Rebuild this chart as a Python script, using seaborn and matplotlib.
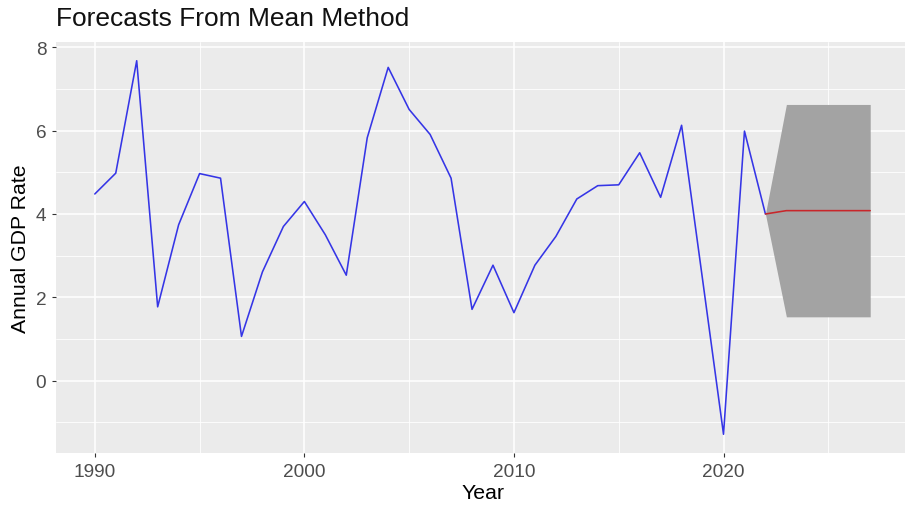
import pandas as pd
import matplotlib
matplotlib.use('Agg')
import matplotlib.pyplot as plt
import seaborn as sns

years = list(range(1990, 2023))
gdp_rate = [4.48, 4.98, 7.68, 1.77, 3.74, 4.97, 4.86, 1.06, 2.61, 3.70,
            4.30, 3.50, 2.53, 5.83, 7.52, 6.51, 5.91, 4.86, 1.71, 2.77,
            1.63, 2.77, 3.46, 4.36, 4.68, 4.70, 5.47, 4.40, 6.13, 2.43,
            -1.29, 5.99, 4.00]

fc_years = [2022, 2023, 2024, 2025, 2026, 2027]
fc_mean = [4.00, 4.08, 4.08, 4.08, 4.08, 4.08]
fc_upper = [4.00, 6.63, 6.63, 6.63, 6.63, 6.63]
fc_lower = [4.00, 1.53, 1.53, 1.53, 1.53, 1.53]

df = pd.DataFrame({'Year': years, 'Rate': gdp_rate})
fc = pd.DataFrame({'Year': fc_years, 'Mean': fc_mean,
                   'Upper': fc_upper, 'Lower': fc_lower})

sns.set_style('darkgrid', {'axes.facecolor': '#EBEBEB', 'grid.color': 'white'})
plt.rcParams['font.family'] = ['Liberation Sans', 'DejaVu Sans']

fig = plt.figure(figsize=(9.05, 5.10), dpi=100)
ax = fig.add_axes([0.0619, 0.1098, 0.9425, 0.8059])

# prediction interval band, then history and mean forecast
ax.fill_between(fc['Year'], fc['Lower'], fc['Upper'], color='#A3A3A3', lw=0, zorder=2)
sns.lineplot(data=df, x='Year', y='Rate', ax=ax, color='#3535E6', lw=1.15, zorder=3)
sns.lineplot(data=fc, x='Year', y='Mean', ax=ax, color='#C8262A', lw=1.15, zorder=4)

ax.set_xlim(1988.15, 2028.85)
ax.set_ylim(-1.74, 8.13)
ax.set_xticks([1990, 2000, 2010, 2020])
ax.set_xticks([1995, 2005, 2015, 2025], minor=True)
ax.set_yticks([0, 2, 4, 6, 8])
ax.set_yticks([-1, 1, 3, 5, 7], minor=True)
ax.grid(which='major', color='white', lw=1.1)
ax.grid(which='minor', color='white', lw=0.6)
for s in ax.spines.values():
    s.set_visible(False)

ax.tick_params(axis='both', which='major', length=3, width=0.8, color='#333333',
               labelcolor='#4D4D4D', labelsize=13.7, pad=4, bottom=True, left=True)
ax.tick_params(which='minor', length=0)

ax.set_xlabel('Year', fontsize=15.3, color='black', labelpad=2)
ax.set_ylabel('Annual GDP Rate', fontsize=15.3, color='black', labelpad=4)
ax.set_title('Forecasts From Mean Method', fontsize=19, loc='left',
             color='#111111', pad=12)

fig.savefig('out.png', dpi=100)
